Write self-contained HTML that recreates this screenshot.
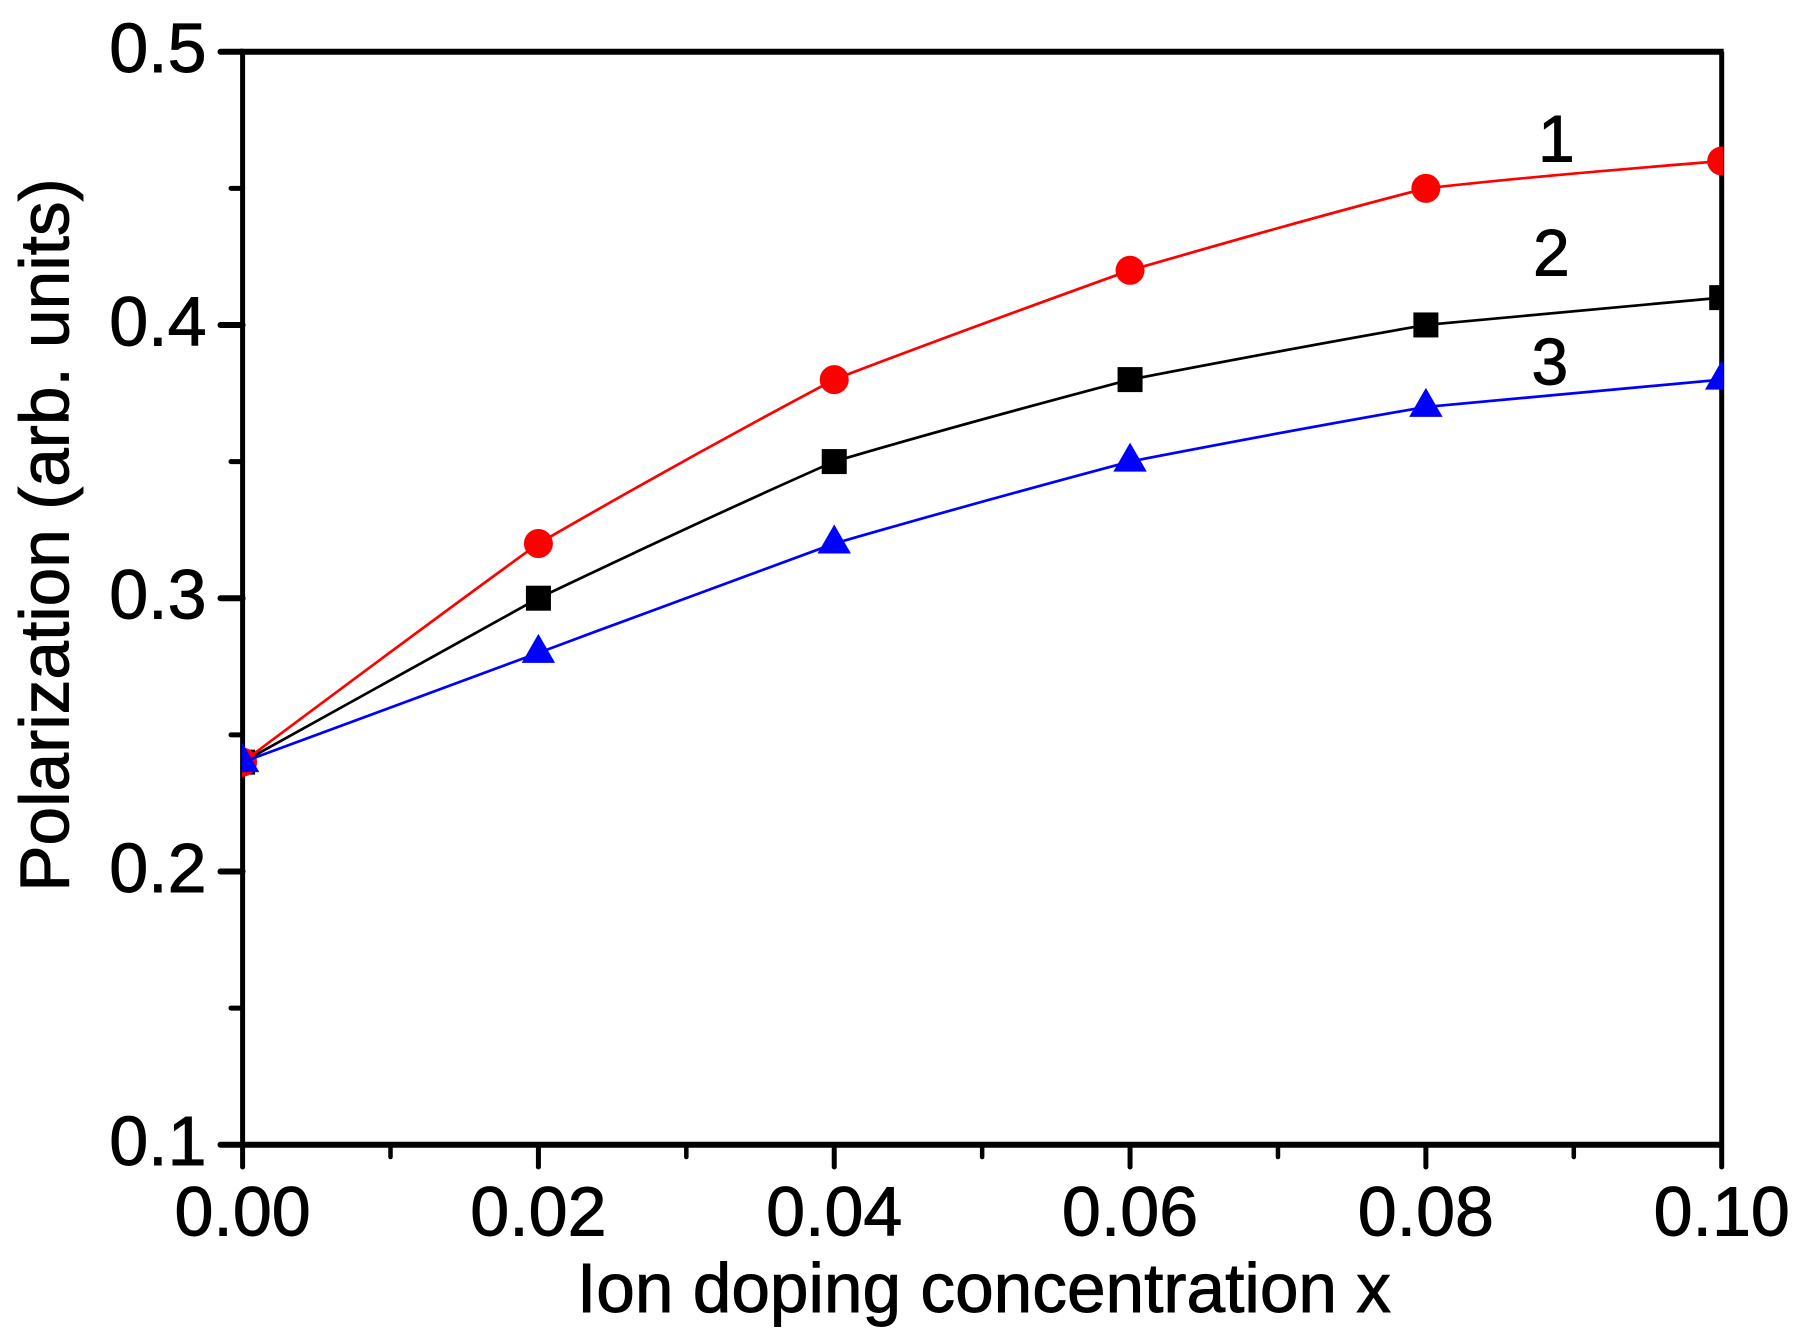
<!DOCTYPE html>
<html lang="en">
<head>
<meta charset="utf-8">
<title>Polarization vs ion doping concentration</title>
<style>
html,body{margin:0;padding:0;background:#fff;width:1801px;height:1342px;overflow:hidden}
svg{display:block}
text{font-family:"Liberation Sans",Arial,sans-serif;fill:#000;stroke:#000;stroke-width:0.9px}
</style>
</head>
<body>
<svg id="chart" xmlns="http://www.w3.org/2000/svg" width="1801" height="1342" viewBox="0 0 1801 1342">
<defs><clipPath id="plot-clip"><rect x="242" y="40" width="1481.3" height="1105"/></clipPath></defs>
<rect x="0" y="0" width="1801" height="1342" fill="#fff"/>
<g id="axes"></g>
<g id="series" clip-path="url(#plot-clip)"></g>
<g id="labels"></g>
<text x="984" y="1312" font-size="69.4" text-anchor="middle">Ion doping concentration x</text>
<text transform="translate(68.3,535) rotate(-90)" font-size="69.4" text-anchor="middle">Polarization (arb. units)</text>
</svg>
<script>
const xValues = [0, 0.02, 0.04, 0.06, 0.08, 0.10];
const series1Values = [0.24, 0.32, 0.38, 0.42, 0.45, 0.46];
const series2Values = [0.24, 0.30, 0.35, 0.38, 0.40, 0.41];
const series3Values = [0.24, 0.28, 0.32, 0.35, 0.37, 0.38];
const xMajorTicks = [0, 0.02, 0.04, 0.06, 0.08, 0.10];
const xMinorTicks = [0.01, 0.03, 0.05, 0.07, 0.09];
const yMajorTicks = [0.1, 0.2, 0.3, 0.4, 0.5];
const yMinorTicks = [0.15, 0.25, 0.35, 0.45];
const xTickLabels = ["0.00", "0.02", "0.04", "0.06", "0.08", "0.10"];
const yTickLabels = ["0.1", "0.2", "0.3", "0.4", "0.5"];
const seriesLabels = ["1", "2", "3"];

const NS = "http://www.w3.org/2000/svg";
const X0 = 242.6, X1 = 1721.7, Y0 = 1144.7, Y1 = 51.7;
const CURVE_TENSION = 0.22;
function sx(v) { return X0 + (v - 0) / (0.10 - 0) * (X1 - X0); }
function sy(v) { return Y0 - (v - 0.1) / (0.5 - 0.1) * (Y0 - Y1); }
function make(tag, parent, props) {
  const el = document.createElementNS(NS, tag);
  for (const k in props) el.setAttribute(k, props[k]);
  parent.appendChild(el);
  return el;
}
const axes = document.getElementById("axes");
const seriesGroup = document.getElementById("series");
const labelsGroup = document.getElementById("labels");

// frame
const frameTop = make("line", axes, {x1: X0 - 2.5, y1: Y1, x2: X1 + 2, y2: Y1, stroke: "#000", "stroke-width": 6});


const frameRight = make("line", axes, {x1: X1, y1: Y1, x2: X1, y2: Y0, stroke: "#000", "stroke-width": 5});


const axisX = make("line", axes, {x1: X0, y1: Y0, x2: X1, y2: Y0, stroke: "#000", "stroke-width": 6});


const axisY = make("line", axes, {x1: X0, y1: Y1, x2: X0, y2: Y0, stroke: "#000", "stroke-width": 5});



// x ticks
xMajorTicks.forEach(function (v, i) {
  const t = make("line", axes, {x1: sx(v), y1: Y0, x2: sx(v), y2: 1167, stroke: "#000", "stroke-width": 5, "stroke-linecap": "round"});
  
  
  const lab = make("text", axes, {x: sx(v), y: 1235.5, "font-size": 70, "text-anchor": "middle"});
  
  
  lab.textContent = xTickLabels[i];
});
xMinorTicks.forEach(function (v) {
  const t = make("line", axes, {x1: sx(v), y1: Y0, x2: sx(v), y2: 1157, stroke: "#000", "stroke-width": 4.5, "stroke-linecap": "round"});
  
  
});
// y ticks
yMajorTicks.forEach(function (v, i) {
  const t = make("line", axes, {x1: 220.5, y1: sy(v), x2: X0, y2: sy(v), stroke: "#000", "stroke-width": 6, "stroke-linecap": "round"});
  
  
  const lab = make("text", axes, {x: 206.5, y: sy(v) + 20.5, "font-size": 70, "text-anchor": "end"});
  
  
  lab.textContent = yTickLabels[i];
});
yMinorTicks.forEach(function (v) {
  const t = make("line", axes, {x1: 231, y1: sy(v), x2: X0, y2: sy(v), stroke: "#000", "stroke-width": 5, "stroke-linecap": "round"});
  
  
});

// gently bowed curve through the data: spline tangents blended toward straight segments
function splinePath(values) {
  const px = values.map(function (v, i) { return sx(xValues[i]); });
  const py = values.map(function (v) { return sy(v); });
  const n = px.length;
  const h = [];
  for (let i = 0; i < n - 1; i++) h.push(px[i + 1] - px[i]);
  const m = new Array(n).fill(0);
  const c = new Array(n).fill(0);
  const d = new Array(n).fill(0);
  for (let i = 1; i < n - 1; i++) {
    const w = 2 * (h[i - 1] + h[i]) - h[i - 1] * c[i - 1];
    c[i] = h[i] / w;
    const r = 6 * ((py[i + 1] - py[i]) / h[i] - (py[i] - py[i - 1]) / h[i - 1]);
    d[i] = (r - h[i - 1] * d[i - 1]) / w;
  }
  for (let i = n - 2; i > 0; i--) m[i] = d[i] - c[i] * m[i + 1];
  let path = "M" + px[0] + "," + py[0];
  for (let i = 0; i < n - 1; i++) {
    const chord = (py[i + 1] - py[i]) / h[i];
    const s0 = chord - h[i] * (2 * m[i] + m[i + 1]) / 6;
    const s1 = chord + h[i] * (m[i] + 2 * m[i + 1]) / 6;
    const t0 = chord + CURVE_TENSION * (s0 - chord);
    const t1 = chord + CURVE_TENSION * (s1 - chord);
    path += " C" + (px[i] + h[i] / 3) + "," + (py[i] + t0 * h[i] / 3) + " " +
            (px[i + 1] - h[i] / 3) + "," + (py[i + 1] - t1 * h[i] / 3) + " " +
            px[i + 1] + "," + py[i + 1];
  }
  return path;
}
function curve(values, color) {
  return make("path", seriesGroup, {d: splinePath(values), fill: "none", stroke: color, "stroke-width": 2.7});
}

// series 2: black squares
const line2 = curve(series2Values, "#000");


series2Values.forEach(function (v, i) {
  const m = make("rect", seriesGroup, {x: sx(xValues[i]) - 12.5, y: sy(v) - 12.5, width: 25, height: 25, fill: "#000"});
  
  
});
// series 1: red circles
const line1 = curve(series1Values, "#f00");


series1Values.forEach(function (v, i) {
  const m = make("circle", seriesGroup, {cx: sx(xValues[i]), cy: sy(v), r: 14.5, fill: "#f00"});
  
  
});
// series 3: blue triangles
const line3 = curve(series3Values, "#00f");


series3Values.forEach(function (v, i) {
  const cx = sx(xValues[i]), cy = sy(v);
  const p = (cx) + "," + (cy - 19) + " " + (cx + 16.7) + "," + (cy + 10) + " " + (cx - 16.7) + "," + (cy + 10);
  const m = make("polygon", seriesGroup, {points: p, fill: "#00f"});
  
  
});

// series number labels (anchored to the last data point of each series)
const l1 = make("text", labelsGroup, {x: 1538, y: sy(series1Values[5]) + 0.7, "font-size": 66});


l1.textContent = seriesLabels[0];
const l2 = make("text", labelsGroup, {x: 1533, y: sy(series2Values[5]) - 22, "font-size": 66});


l2.textContent = seriesLabels[1];
const l3 = make("text", labelsGroup, {x: 1531.5, y: sy(series3Values[5]) + 5, "font-size": 66});


l3.textContent = seriesLabels[2];
</script>
</body>
</html>
